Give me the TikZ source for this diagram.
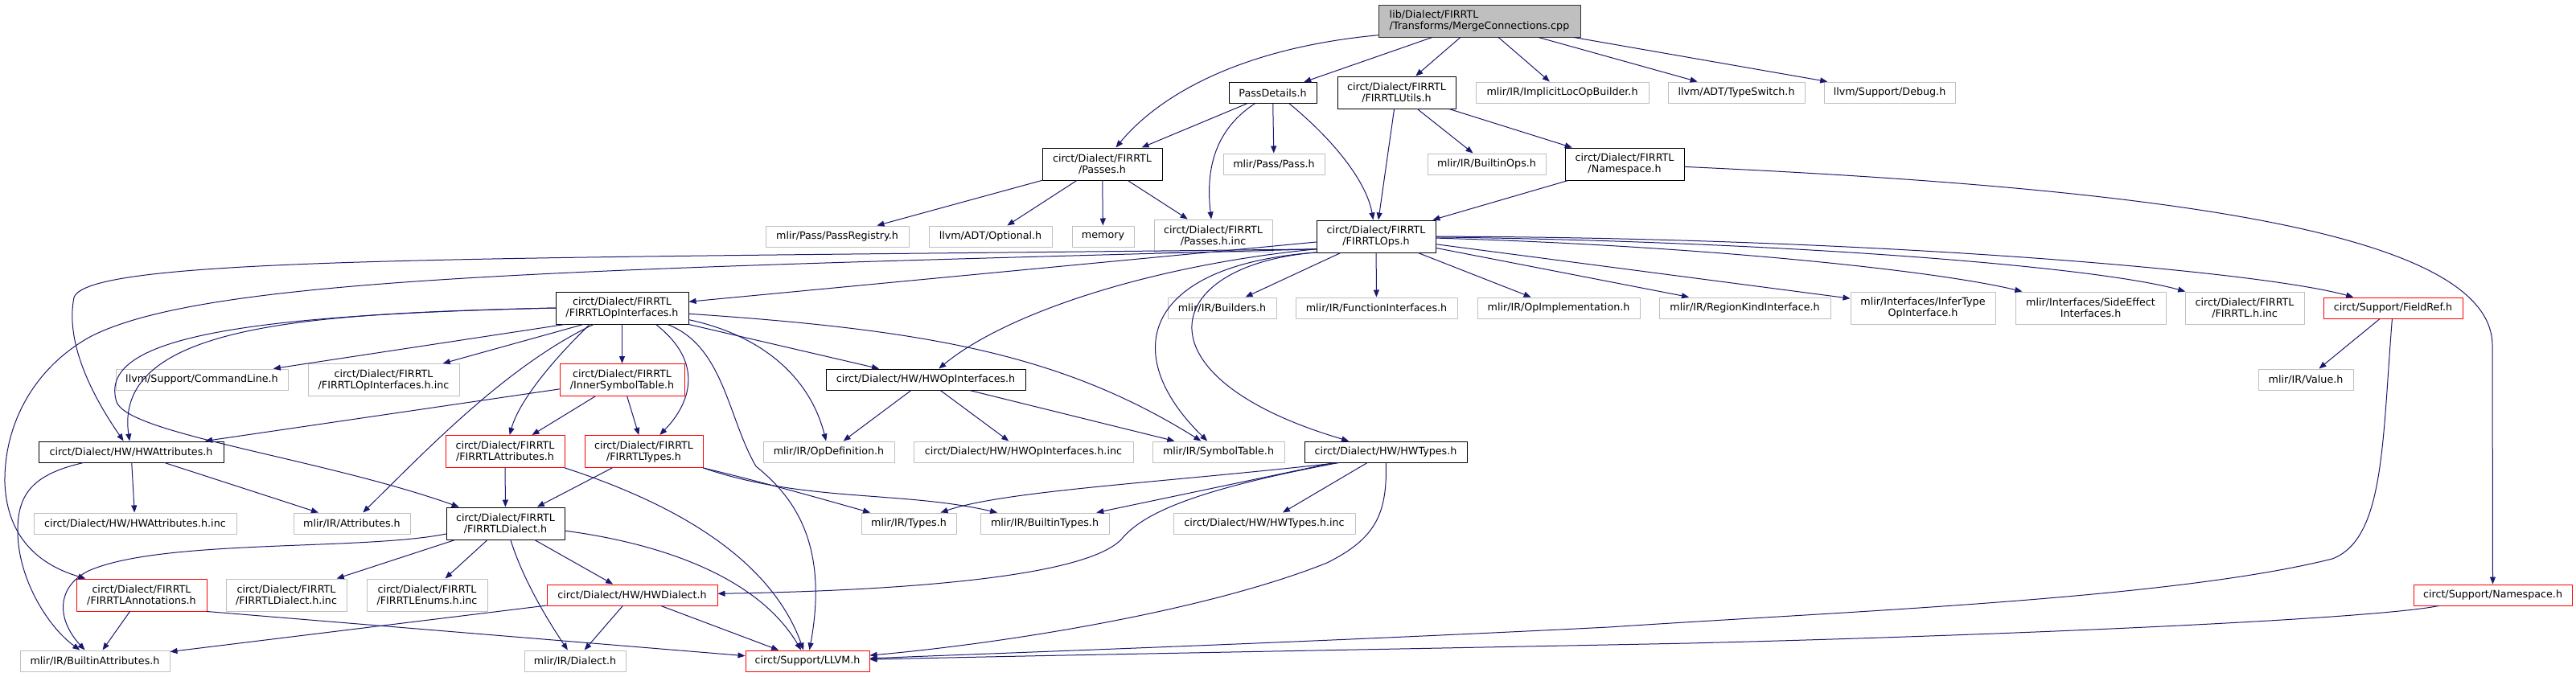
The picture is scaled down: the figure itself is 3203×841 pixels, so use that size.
\documentclass[tikz,border=0pt]{standalone}
\usepackage{fontspec}
\setmainfont{DejaVu Sans}
\usetikzlibrary{arrows.meta}
\definecolor{EdgeBlue}{HTML}{191970}
\definecolor{ExtGray}{HTML}{BFBFBF}
\definecolor{RootGray}{HTML}{BFBFBF}
\definecolor{TruncRed}{HTML}{FF0000}

\begin{document}
\begin{tikzpicture}[x=1pt,y=-1pt,line cap=round,line join=round,
  box/.style={draw,line width=1pt,fill=white,inner sep=0pt,align=center,minimum height=26pt,font=\fontsize{12.7}{14}\selectfont},
  wd/.style={minimum width=#1pt},two/.style={minimum height=40pt},
  doc/.style={box,draw=black},ext/.style={box,draw=ExtGray},trunc/.style={box,draw=TruncRed},
  dep/.style={EdgeBlue,line width=1pt,-{Triangle[length=9pt,width=7pt]}}]
  \fill[white] (0,0) rectangle (3203,841);\useasboundingbox (0,0) rectangle (3203,841);
  \node[doc,two,wd=251,fill=RootGray,draw=black!80,align=left] (root) at (1839.5,26) {lib/Dialect/FIRRTL\\/Transforms/MergeConnections.cpp};
  \node[doc,wd=109] (passdet) at (1582.5,115.5) {PassDetails.h};
  \node[doc,two,wd=147] (utils) at (1736.5,115) {circt/Dialect/FIRRTL\\/FIRRTLUtils.h};
  \node[ext,wd=215] (implicit) at (1942.5,115) {mlir/IR/ImplicitLocOpBuilder.h};
  \node[ext,wd=170] (typeswitch) at (2159,115) {llvm/ADT/TypeSwitch.h};
  \node[ext,wd=163] (debug) at (2349.5,115) {llvm/Support/Debug.h};
  \node[doc,two,wd=149] (passes) at (1370.5,204) {circt/Dialect/FIRRTL\\/Passes.h};
  \node[ext,wd=126] (pass) at (1584,204) {mlir/Pass/Pass.h};
  \node[ext,wd=147] (builtinops) at (1848.5,204) {mlir/IR/BuiltinOps.h};
  \node[doc,two,wd=148] (firns) at (2020,204) {circt/Dialect/FIRRTL\\/Namespace.h};
  \node[ext,wd=178] (passreg) at (1041,294) {mlir/Pass/PassRegistry.h};
  \node[ext,wd=153] (optional) at (1231.5,294) {llvm/ADT/Optional.h};
  \node[ext,wd=77] (memory) at (1371.5,294) {memory};
  \node[ext,two,wd=147] (passesinc) at (1508.5,293) {circt/Dialect/FIRRTL\\/Passes.h.inc};
  \node[doc,two,wd=148] (ops) at (1711,294) {circt/Dialect/FIRRTL\\/FIRRTLOps.h};
  \node[doc,two,wd=165] (opif) at (773.5,383) {circt/Dialect/FIRRTL\\/FIRRTLOpInterfaces.h};
  \node[ext,wd=135] (builders) at (1519.5,383) {mlir/IR/Builders.h};
  \node[ext,wd=201] (funcif) at (1711.5,383) {mlir/IR/FunctionInterfaces.h};
  \node[ext,wd=202] (opimpl) at (1938,383) {mlir/IR/OpImplementation.h};
  \node[ext,wd=213] (regionkind) at (2169.5,383) {mlir/IR/RegionKindInterface.h};
  \node[ext,two,wd=180] (infertype) at (2391,383) {mlir/Interfaces/InferType\\OpInterface.h};
  \node[ext,two,wd=187] (sideeffect) at (2599.5,383) {mlir/Interfaces/SideEffect\\Interfaces.h};
  \node[ext,two,wd=148] (firinc) at (2791,383) {circt/Dialect/FIRRTL\\/FIRRTL.h.inc};
  \node[trunc,wd=173] (fieldref) at (2975.5,383) {circt/Support/FieldRef.h};
  \node[ext,wd=214] (cmdline) at (251,472) {llvm/Support/CommandLine.h};
  \node[ext,two,wd=188] (opifinc) at (477,472.5) {circt/Dialect/FIRRTL\\/FIRRTLOpInterfaces.h.inc};
  \node[trunc,two,wd=155] (innersym) at (773.5,472.5) {circt/Dialect/FIRRTL\\/InnerSymbolTable.h};
  \node[doc,wd=248] (hwopif) at (1151,472) {circt/Dialect/HW/HWOpInterfaces.h};
  \node[ext,wd=118] (value) at (2867,472) {mlir/IR/Value.h};
  \node[doc,wd=230] (hwattr) at (163,562) {circt/Dialect/HW/HWAttributes.h};
  \node[trunc,two,wd=148] (firattr) at (628,561.5) {circt/Dialect/FIRRTL\\/FIRRTLAttributes.h};
  \node[trunc,two,wd=147] (firtypes) at (800.5,561.5) {circt/Dialect/FIRRTL\\/FIRRTLTypes.h};
  \node[ext,wd=163] (opdef) at (1030.5,562) {mlir/IR/OpDefinition.h};
  \node[ext,wd=273] (hwopifinc) at (1272.5,562) {circt/Dialect/HW/HWOpInterfaces.h.inc};
  \node[ext,wd=164] (symtab) at (1515,562) {mlir/IR/SymbolTable.h};
  \node[doc,wd=202] (hwtypes) at (1723,562) {circt/Dialect/HW/HWTypes.h};
  \node[ext,wd=252] (hwattrinc) at (168,651) {circt/Dialect/HW/HWAttributes.h.inc};
  \node[ext,wd=145] (attrs) at (437.5,651) {mlir/IR/Attributes.h};
  \node[doc,two,wd=147] (dialect) at (628.5,651) {circt/Dialect/FIRRTL\\/FIRRTLDialect.h};
  \node[ext,wd=118] (types) at (1130,651) {mlir/IR/Types.h};
  \node[ext,wd=160] (builtintypes) at (1299,651) {mlir/IR/BuiltinTypes.h};
  \node[ext,wd=226] (hwtypesinc) at (1572,651) {circt/Dialect/HW/HWTypes.h.inc};
  \node[trunc,two,wd=162] (annot) at (176,740) {circt/Dialect/FIRRTL\\/FIRRTLAnnotations.h};
  \node[ext,two,wd=150] (dialectinc) at (356,740) {circt/Dialect/FIRRTL\\/FIRRTLDialect.h.inc};
  \node[ext,two,wd=150] (enumsinc) at (531,740) {circt/Dialect/FIRRTL\\/FIRRTLEnums.h.inc};
  \node[trunc,wd=212] (hwdialect) at (786,740) {circt/Dialect/HW/HWDialect.h};
  \node[trunc,wd=197] (supns) at (3099.5,740) {circt/Support/Namespace.h};
  \node[ext,wd=186] (builtinattr) at (118,822) {mlir/IR/BuiltinAttributes.h};
  \node[ext,wd=126] (mlirdialect) at (715,822) {mlir/IR/Dialect.h};
  \node[trunc,wd=154] (llvm) at (1004,822) {circt/Support/LLVM.h};
  \draw[dep] (root.188) .. controls (1540,60) and (1440,120) .. (passes);
  \foreach \t in {passdet,utils,implicit,typeswitch,debug}{\draw[dep] (root) -- (\t);}
  \draw[dep] (passdet) -- (passes);\draw[dep] (passdet) -- (pass);
  \draw[dep] (passdet.211) .. controls (1505,165) and (1500,220) .. (passesinc);
  \draw[dep] (passdet.327) .. controls (1665,180) and (1700,230) .. (ops);
  \foreach \t in {ops,builtinops,firns}{\draw[dep] (utils) -- (\t);}
  \foreach \t in {passreg,optional,memory,passesinc}{\draw[dep] (passes) -- (\t);}
  \draw[dep] (firns) -- (ops);
  \draw[dep] (firns) .. controls (2700,235) and (3099,290) .. (3099,430) -- (supns);
  \foreach \t in {opif,builders,funcif,opimpl,regionkind,infertype}{\draw[dep] (ops) -- (\t);}
  \draw[dep] (ops) .. controls (2100,305) and (2400,335) .. (sideeffect);
  \draw[dep] (ops) .. controls (2200,300) and (2600,330) .. (firinc);
  \draw[dep] (ops) .. controls (2300,295) and (2800,335) .. (fieldref);
  \draw[dep] (ops.192) .. controls (600,322) and (110,318) .. (92,370) .. controls (80,430) and (120,500) .. (hwattr);
  \draw[dep] (ops.192) .. controls (700,335) and (250,345) .. (110,420) .. controls (40,460) and (5,530) .. (6,600) .. controls (8,660) and (40,700) .. (annot);
  \draw[dep] (ops.192) .. controls (1430,330) and (1250,390) .. (hwopif);
  \draw[dep] (ops.195) .. controls (1420,330) and (1390,440) .. (symtab);
  \draw[dep] (ops.195) .. controls (1440,330) and (1410,470) .. (hwtypes);
  \draw[dep] (opif.west) .. controls (400,390) and (140,400) .. (hwattr);
  \draw[dep] (opif.west) .. controls (300,392) and (120,420) .. (145,500) .. controls (160,540) and (400,570) .. (dialect);
  \draw[dep] (opif.196) -- (cmdline);\draw[dep] (opif.203) -- (opifinc);\draw[dep] (opif) -- (innersym);
  \draw[dep] (opif.207) .. controls (685,450) and (645,500) .. (firattr);
  \draw[dep] (opif.210) .. controls (630,455) and (530,560) .. (attrs);
  \draw[dep] (opif.334) .. controls (875,450) and (860,500) .. (firtypes);
  \draw[dep] (opif.340) .. controls (900,430) and (905,520) .. (940,580) .. controls (990,620) and (1030,680) .. (llvm);
  \draw[dep] (opif.south east) -- (hwopif);
  \draw[dep] (opif.350) .. controls (960,420) and (1010,480) .. (opdef);
  \draw[dep] (opif.355) .. controls (1150,410) and (1320,440) .. (symtab);
  \foreach \t in {hwattr,firattr,firtypes}{\draw[dep] (innersym) -- (\t);}
  \draw[dep] (hwattr) -- (hwattrinc);\draw[dep] (hwattr) -- (attrs);
  \draw[dep] (hwattr) .. controls (40,590) and (22,615) .. (22,660) .. controls (22,720) and (60,780) .. (builtinattr);
  \draw[dep] (firattr) -- (dialect);
  \draw[dep] (firattr.south east) .. controls (850,630) and (960,700) .. (llvm);
  \draw[dep] (firtypes) -- (dialect);
  \draw[dep] (firtypes.south east) .. controls (950,600) and (1020,620) .. (types);
  \draw[dep] (firtypes.south east) .. controls (1000,625) and (1120,610) .. (builtintypes);
  \draw[dep] (dialect.190) .. controls (450,685) and (200,670) .. (110,710) .. controls (70,730) and (70,770) .. (builtinattr);
  \draw[dep] (dialect) -- (dialectinc);\draw[dep] (dialect) -- (enumsinc);\draw[dep] (dialect) -- (hwdialect);
  \draw[dep] (dialect) .. controls (650,720) and (680,770) .. (mlirdialect);
  \draw[dep] (dialect.353) .. controls (850,680) and (950,730) .. (llvm);
  \draw[dep] (annot) -- (builtinattr);\draw[dep] (annot.south east) -- (llvm);
  \foreach \t in {builtinattr,mlirdialect,llvm}{\draw[dep] (hwdialect) -- (\t);}
  \foreach \t in {opdef,hwopifinc,symtab}{\draw[dep] (hwopif) -- (\t);}
  \draw[dep] (hwtypes.193) .. controls (1450,600) and (1250,610) .. (types);
  \draw[dep] (hwtypes) -- (builtintypes);\draw[dep] (hwtypes) -- (hwtypesinc);
  \draw[dep] (hwtypes.193) .. controls (1480,610) and (1420,640) .. (1395,670) .. controls (1350,720) and (1100,735) .. (hwdialect);
  \draw[dep] (hwtypes) .. controls (1725,640) and (1710,670) .. (1650,700) .. controls (1500,760) and (1250,800) .. (llvm);
  \draw[dep] (fieldref) -- (value);
  \draw[dep] (fieldref) .. controls (2962,550) and (2965,670) .. (2900,695) .. controls (2700,745) and (2300,760) .. (2000,780) .. controls (1600,800) and (1300,810) .. (llvm);
  \draw[dep] (supns) .. controls (2950,770) and (2500,790) .. (2100,800) .. controls (1700,808) and (1300,815) .. (llvm);
\end{tikzpicture}
\end{document}
